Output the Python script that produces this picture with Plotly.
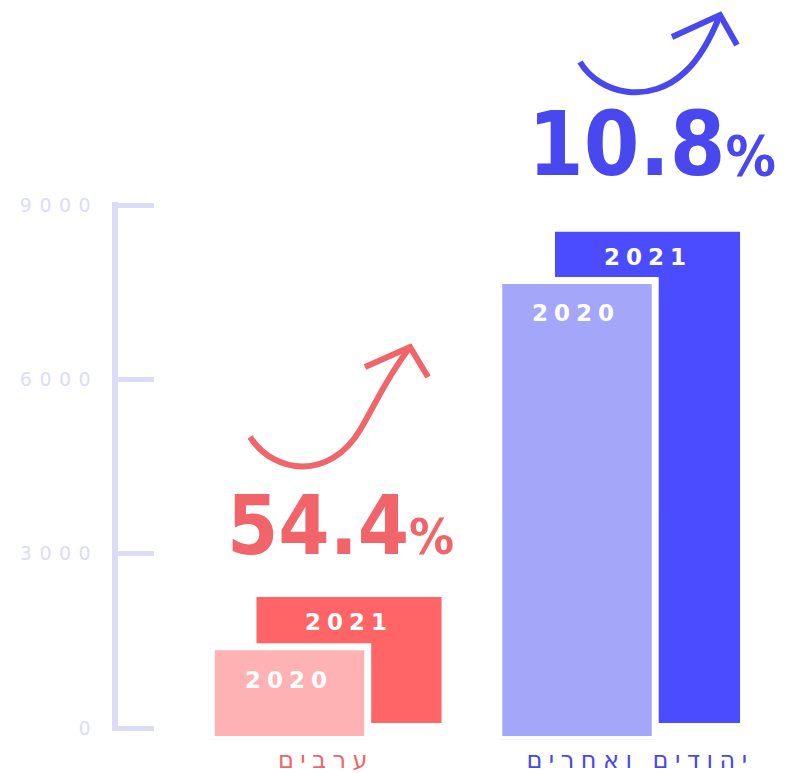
"""Arab vs Jewish/other counts, 2020 vs 2021 - infographic style bar chart."""

import plotly.graph_objects as go

W, H = 788, 773
OFF = 8  # default body margin of the html page
FW, FH = W - OFF, H - OFF  # figure runs to the window edge

# data
groups = ["ערבים", "יהודים ואחרים"]
values_2020 = [1590, 7870]
values_2021 = [2160, 8420]
years = ["2020", "2021"]
growth_labels = ["54.4", "10.8"]
y_ticks = [0, 3000, 6000, 9000]

RED = "#ff6467"
PINK = "#ffb2b4"
BLUE = "#4b4bff"
LIGHT_BLUE = "#a4a6fa"
RED_TEXT = "#f0646a"
BLUE_TEXT = "#4848ee"
LAVENDER = "#dcdcf8"


def px(x, y):
    """screen pixel -> paper coords"""
    return (x - OFF) / FW, 1 - (y - OFF) / FH


def path(*segs):
    out = []
    for cmd, *pts in segs:
        out.append(cmd + " ".join("%.4f,%.4f" % px(*p) for p in pts))
    return " ".join(out)


def ydom(zero_px, top_px, lo=0, hi=9000, top_val=9000):
    # domain so that 0 -> zero_px and top_val -> top_px, with range [lo, hi]
    k = (zero_px - top_px) / top_val
    return [px(0, zero_px - lo * k)[1], px(0, top_px - (hi - top_val) * k)[1]]


def cat_range(first_center, spacing, left=OFF, right=OFF + FW):
    # category axis range so that category 0 lands on first_center (pixels)
    lo = -(first_center - left) / spacing
    return [lo, lo + (right - left) / spacing]


def spaced(txt, sp):
    return f"<span style='letter-spacing:{sp}px'>{txt}</span>"


fig = go.Figure()

# empty trace so the visible scale axes get drawn
fig.add_trace(go.Scatter(x=[], y=[], hoverinfo="skip"))

# 2021 bars (back)
fig.add_trace(go.Bar(
    x=groups, y=values_2021, xaxis="x2", yaxis="y2",
    marker=dict(color=[RED, BLUE], line=dict(width=0)),
    width=0.62, hoverinfo="y", name=years[1],
))
# 2020 bars (front, white outline)
fig.add_trace(go.Bar(
    x=groups, y=values_2020, xaxis="x3", yaxis="y3",
    marker=dict(color=[PINK, LIGHT_BLUE], line=dict(width=7, color="white")),
    width=0.544, hoverinfo="y", name=years[0],
))

year_font = dict(family="DejaVu Sans", size=23, color="white", weight=600)
for g, v in zip(groups, values_2021):
    fig.add_annotation(x=g, y=v, xref="x2", yref="y2", text=spaced(years[1], 6), showarrow=False,
                       yanchor="middle", yshift=-25, xshift=0, font=year_font)
for g, v in zip(groups, values_2020):
    fig.add_annotation(x=g, y=v, xref="x3", yref="y3", text=spaced(years[0], 6), showarrow=False,
                       yanchor="middle", yshift=-33, xshift=-1, font=year_font)

# growth percentages
for txt, (cx, cy), col, big, small in [
    (growth_labels[0], (340, 525), RED_TEXT, 82, 50),
    (growth_labels[1], (652, 144), BLUE_TEXT, 89, 56),
]:
    x, y = px(cx, cy)
    fig.add_annotation(x=x, y=y, xref="paper", yref="paper", showarrow=False,
                       xanchor="center", yanchor="middle",
                       text=f"{txt}<span style='font-size:{small}px'>%</span>",
                       font=dict(family="DejaVu Sans Condensed", size=big, color=col, weight="bold"))

# hand drawn arrows
red_arrow = path(("M", (250, 437)), ("C", (275, 475), (330, 480), (360, 430)),
                 ("C", (375, 405), (385, 380), (410, 347)))
red_head = path(("M", (365, 367)), ("L", (410, 347)), ("L", (428, 377)))
blue_arrow = path(("M", (580, 62)), ("C", (600, 95), (650, 105), (685, 72)),
                  ("C", (700, 58), (710, 40), (720, 15)))
blue_head = path(("M", (672, 37)), ("L", (720, 15)), ("L", (737, 45)))
for p, col in [(red_arrow, RED_TEXT), (red_head, RED_TEXT), (blue_arrow, BLUE_TEXT), (blue_head, BLUE_TEXT)]:
    fig.add_shape(type="path", path=p, xref="paper", yref="paper",
                  line=dict(color=col, width=6))

hidden = dict(visible=False, showgrid=False, zeroline=False, automargin=False)

fig.update_layout(
    width=FW, height=FH,
    margin=dict(l=0, r=0, t=0, b=0, autoexpand=False),
    paper_bgcolor="white", plot_bgcolor="rgba(0,0,0,0)",
    showlegend=False, barmode="overlay",
    # visible axis (labels + y scale)
    xaxis=dict(domain=[px(118, 0)[0], 1], range=cat_range(326, 314, left=118),
               showgrid=False, zeroline=False, showline=False, automargin=False,
               tickvals=[0, 1],
               ticktext=[f"<span style='color:{RED_TEXT};letter-spacing:6.5px'>{groups[0]}</span>",
                         f"<span style='color:{BLUE_TEXT};letter-spacing:6.5px'>{groups[1]}</span>"],
               ticks="", ticklabelstandoff=12,
               tickfont=dict(family="DejaVu Sans", size=24)),
    yaxis=dict(domain=ydom(728, 205, lo=-60, hi=9060), range=[-60, 9060], tickvals=y_ticks,
               ticktext=[spaced(t, 7.5) for t in y_ticks], automargin=False,
               showgrid=False, zeroline=False, showline=True, linecolor=LAVENDER, linewidth=6,
               ticks="inside", ticklen=36, tickwidth=5, tickcolor=LAVENDER,
               ticklabelstandoff=10,
               tickfont=dict(family="DejaVu Sans", size=19, color=LAVENDER)),
    xaxis2=dict(hidden, domain=[0, 1], anchor="y2", range=cat_range(349, 298.5)),
    yaxis2=dict(hidden, domain=ydom(723, 198), anchor="x2", range=[0, 9000]),
    xaxis3=dict(hidden, domain=[0, 1], anchor="y3", range=cat_range(289.5, 287.5)),
    yaxis3=dict(hidden, domain=ydom(739.5, 214.5), anchor="x3", range=[0, 9000]),
)

fig.write_html("out.html")
